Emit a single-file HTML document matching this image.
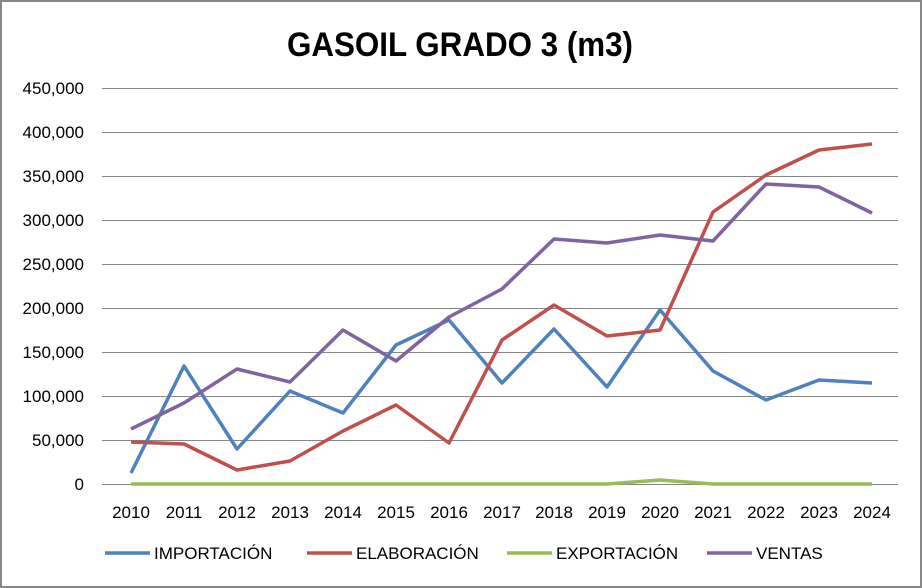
<!DOCTYPE html><html><head><style>body{margin:0;background:#fff}svg{display:block}text{font-family:"Liberation Sans",Calibri,sans-serif}</style></head><body>
<svg width="922" height="588" xmlns="http://www.w3.org/2000/svg">
<rect x="1" y="1" width="920" height="586" fill="#fff" stroke="#868686" stroke-width="2"/>
<text x="287" y="56" font-size="34" font-weight="bold" textLength="346" lengthAdjust="spacingAndGlyphs">GASOIL GRADO 3 (m3)</text>
<g stroke="#868686" stroke-width="1">
<line x1="102" x2="898" y1="88.5" y2="88.5"/><line x1="102" x2="898" y1="132.5" y2="132.5"/><line x1="102" x2="898" y1="176.5" y2="176.5"/><line x1="102" x2="898" y1="220.5" y2="220.5"/><line x1="102" x2="898" y1="264.5" y2="264.5"/><line x1="102" x2="898" y1="308.5" y2="308.5"/><line x1="102" x2="898" y1="352.5" y2="352.5"/><line x1="102" x2="898" y1="396.5" y2="396.5"/><line x1="102" x2="898" y1="440.5" y2="440.5"/><line x1="102" x2="898" y1="484.5" y2="484.5"/>
</g>
<g font-size="17" text-anchor="end">
<text x="84" y="94">450,000</text><text x="84" y="138">400,000</text><text x="84" y="182">350,000</text><text x="84" y="226">300,000</text><text x="84" y="270">250,000</text><text x="84" y="314">200,000</text><text x="84" y="358">150,000</text><text x="84" y="402">100,000</text><text x="84" y="446">50,000</text><text x="84" y="490">0</text>
</g>
<g font-size="17" text-anchor="middle">
<text x="131" y="518">2010</text><text x="184" y="518">2011</text><text x="237" y="518">2012</text><text x="290" y="518">2013</text><text x="343" y="518">2014</text><text x="396" y="518">2015</text><text x="449" y="518">2016</text><text x="502" y="518">2017</text><text x="554" y="518">2018</text><text x="607" y="518">2019</text><text x="660" y="518">2020</text><text x="713" y="518">2021</text><text x="766" y="518">2022</text><text x="819" y="518">2023</text><text x="872" y="518">2024</text>
</g>
<g fill="none" stroke-width="3.5" stroke-linejoin="round">
<polyline stroke="#9bbb59" points="131,484 184,484 237,484 290,484 343,484 396,484 449,484 502,484 554,484 607,484 660,480 713,484 766,484 819,484 872,484"/>
<polyline stroke="#4f81bd" points="131,473 184,366 237,449 290,391 343,413 396,345 449,320 502,383 554,329 607,387 660,310 713,371 766,400 819,380 872,383"/>
<polyline stroke="#c0504d" points="131,442 184,444 237,470 290,461 343,431 396,405 449,443 502,340 554,305 607,336 660,330 713,212 766,175 819,150 872,144"/>
<polyline stroke="#8064a2" points="131,429 184,403 237,369 290,382 343,330 396,361 449,317 502,289 554,239 607,243 660,235 713,241 766,184 819,187 872,213"/>
</g>
<g stroke-width="3.5">
<line x1="105" x2="150" y1="553" y2="553" stroke="#4f81bd"/>
<line x1="307" x2="352" y1="553" y2="553" stroke="#c0504d"/>
<line x1="507" x2="552" y1="553" y2="553" stroke="#9bbb59"/>
<line x1="707" x2="752" y1="553" y2="553" stroke="#8064a2"/>
</g>
<g font-size="17"><text x="154" y="559">IMPORTACIÓN</text><text x="356" y="559">ELABORACIÓN</text><text x="556" y="559">EXPORTACIÓN</text><text x="756" y="559">VENTAS</text></g>
</svg></body></html>
